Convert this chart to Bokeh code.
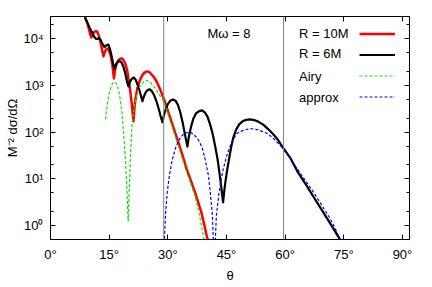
import numpy as np
from bokeh.plotting import figure
from bokeh.models import (Span, Label, Legend, LegendItem, FixedTicker,
                          CustomJSTickFormatter, LinearAxis, LogAxis)
from bokeh.embed import file_html
from bokeh.resources import INLINE

# ---- data (theta in degrees, log10 of M^-2 dsigma/dOmega) ----
theta_r10 = [8.18, 8.94, 9.45, 9.85, 10.2, 10.48, 10.75, 11.1, 11.5, 11.9, 12.3, 12.78, 13.2,
             13.54, 13.8, 14.15, 14.5, 14.85, 15.33, 15.8, 16.23, 16.5, 16.87, 17.3, 17.8,
             18.27, 18.7, 19.2, 19.68, 20.1, 20.44, 20.8, 21.21, 21.5, 21.8, 22.2, 22.8,
             23.5, 24.1, 24.71, 25.3, 25.81, 26.5, 27.09, 27.6, 28.11, 28.95, 29.8, 30.66,
             31.7, 32.79, 33.8, 34.75, 35.9, 37.05, 38.58, 39.3, 40.04, 40.63]
logsig_r10 = [4.64, 4.437, 4.33, 4.20, 4.08, 4.030, 4.09, 4.14, 4.16, 4.155, 4.08, 3.923, 3.76,
              3.623, 3.70, 3.76, 3.79, 3.77, 3.66, 3.45, 3.151, 3.33, 3.45, 3.53, 3.57,
              3.58, 3.54, 3.45, 3.29, 3.05, 2.85, 2.60, 2.229, 2.55, 2.75, 2.93, 3.10,
              3.22, 3.28, 3.301, 3.285, 3.24, 3.17, 3.09, 3.00, 2.90, 2.72, 2.51, 2.294,
              2.03, 1.758, 1.49, 1.222, 0.96, 0.686, 0.279, 0.02, -0.257, -0.407]

theta_r6 = [8.18, 8.94, 9.97, 10.73, 11.2, 11.6, 12.0, 12.4, 12.8, 13.3, 13.8, 14.3, 14.8,
            15.2, 15.6, 16.0, 16.35, 16.7, 17.1, 17.6, 18.1, 18.6, 19.1, 19.5, 19.93, 20.3,
            20.8, 21.3, 21.8, 22.3, 22.9, 23.51, 23.9, 24.4, 24.9, 25.4, 25.9, 26.5, 27.1,
            27.7, 28.2, 28.62, 29.0, 29.5, 30.0, 30.6, 31.3, 32.0, 32.6, 33.2, 33.8, 34.4,
            35.01, 35.4, 35.9, 36.5, 37.2, 38.0, 38.8, 39.5, 40.2, 40.89, 41.5, 42.1, 42.7,
            43.2, 43.7, 44.13, 44.45, 44.8, 45.2, 45.7, 46.2, 46.8, 47.5, 48.3, 49.2, 50.1,
            51.1, 52.1, 53.2, 54.4, 55.6, 56.9, 58.2, 59.5, 61.3, 63.04, 65.2, 67.28, 69.4,
            71.55, 73.0, 74.5]
logsig_r6 = [4.65, 4.437, 4.244, 4.116, 4.04, 4.00, 3.995, 4.02, 3.98, 3.89, 3.82, 3.86, 3.875,
             3.78, 3.64, 3.47, 3.35, 3.44, 3.50, 3.525, 3.50, 3.41, 3.27, 3.10, 2.98, 3.08,
             3.14, 3.17, 3.12, 3.01, 2.85, 2.66, 2.77, 2.86, 2.905, 2.915, 2.88, 2.79, 2.66,
             2.49, 2.33, 2.21, 2.36, 2.50, 2.60, 2.67, 2.70, 2.67, 2.58, 2.42, 2.20, 1.94,
             1.69, 1.91, 2.10, 2.28, 2.40, 2.45, 2.465, 2.42, 2.32, 2.144, 1.95, 1.70, 1.43,
             1.13, 0.80, 0.493, 0.75, 0.98, 1.20, 1.44, 1.68, 1.90, 2.06, 2.17, 2.235, 2.265,
             2.272, 2.258, 2.22, 2.16, 2.07, 1.96, 1.83, 1.66, 1.45, 1.17, 0.89, 0.61, 0.33,
             0.04, -0.16, -0.36]

theta_airy = [14.05, 14.3, 14.57, 15.08, 15.59, 15.95, 16.35, 16.75, 17.12, 17.63, 18.14,
              18.65, 19.17, 19.55, 19.86, 20.14, 20.44, 20.88, 21.47, 22.23, 23.00, 23.77,
              24.66, 25.55, 26.83, 28.11, 28.95, 29.8, 30.66, 31.7, 32.71, 33.7, 34.75, 35.9,
              37.05, 38.1, 39.18, 39.6]
logsig_airy = [2.272, 2.47, 2.615, 2.851, 3.001, 3.055, 3.072, 3.05, 3.001, 2.808, 2.508,
               2.036, 1.393, 0.750, 0.086, 0.750, 1.501, 2.187, 2.572, 2.851, 3.001, 3.076,
               3.108, 3.065, 2.937, 2.765, 2.658, 2.45, 2.229, 1.96, 1.693, 1.43, 1.158, 0.88,
               0.60, 0.22, -0.257, -0.40]

theta_approx = [29.0, 29.13, 29.39, 29.82, 30.41, 31.10, 31.94, 32.79, 33.4, 33.99, 34.7,
                35.34, 35.95, 36.54, 37.2, 37.90, 38.84, 39.61, 40.38, 40.89, 41.40, 41.65,
                41.85, 42.16, 42.42, 43.01, 43.6, 44.21, 45.1, 46.0, 46.8, 47.71, 48.5, 49.32,
                50.2, 51.11, 52.1, 53.16, 54.3, 55.45, 56.5, 57.5, 58.6, 59.6, 61.33, 63.04,
                65.2, 67.28, 69.4, 71.55, 72.7, 73.9, 74.4]
logsig_approx = [-2.0, -0.322, 0.214, 0.686, 1.072, 1.393, 1.651, 1.822, 1.90, 1.951, 1.985,
                 2.000, 1.99, 1.951, 1.90, 1.822, 1.651, 1.393, 1.072, 0.686, 0.214, -0.322,
                 -2.0, -0.279, 0.214, 0.643, 0.96, 1.222, 1.50, 1.715, 1.86, 1.972, 2.01, 2.036,
                 2.06, 2.073, 2.065, 2.047, 2.01, 1.972, 1.90, 1.822, 1.73, 1.63, 1.44, 1.22,
                 0.96, 0.71, 0.43, 0.14, -0.04, -0.29, -0.40]

series_labels = ["R = 10M", "R = 6M", "Airy", "approx"]
marker_lines = [28.95, 59.6]
x_ticks = [0, 15, 30, 45, 60, 75, 90]
y_ticks = [1, 10, 100, 1000, 10000]
y_minor = [0.5, 2, 5, 20, 50, 200, 500, 2000, 5000, 20000]
annotation = "M\u03c9 = 8"
x_title = "\u03b8"
y_title = "M\u207b\u00b2 d\u03c3/d\u03a9"

FONT = "Liberation Sans"

p = figure(width=432, height=287, x_range=(0, 91.8), y_range=(0.5, 3.0e4),
           y_axis_type="log", output_backend="svg", toolbar_location=None,
           min_border_left=50, min_border_right=23, min_border_top=16, min_border_bottom=48,
           background_fill_color="white", border_fill_color="white")
p.xgrid.visible = False
p.ygrid.visible = False
p.outline_line_color = "black"
p.outline_line_width = 1

for sp in marker_lines:
    p.add_layout(Span(location=sp, dimension="height", line_color="#808080", line_width=1))

r_red = p.line(theta_r10, 10 ** np.array(logsig_r10), line_color="#ff0000", line_width=2.5,
               line_join="round")
r_blk = p.line(theta_r6, 10 ** np.array(logsig_r6), line_color="#000000", line_width=2.2,
               line_join="round")
r_grn = p.line(theta_airy, 10 ** np.array(logsig_airy), line_color="#00ee00", line_width=1.2,
               line_dash="3 2")
r_blu = p.line(theta_approx, 10 ** np.array(logsig_approx), line_color="#0000ff", line_width=1.2,
               line_dash="3 2")

xfmt = CustomJSTickFormatter(code='return tick + "\u00b0";')
yfmt = CustomJSTickFormatter(code="""
const sup = {"0":"\u2070","1":"\u00b9","2":"\u00b2","3":"\u00b3","4":"\u2074","5":"\u2075",
             "6":"\u2076","7":"\u2077","8":"\u2078","9":"\u2079","-":"\u207b"};
const e = Math.round(Math.log10(tick));
return "10" + String(e).split("").map(c => sup[c]).join("");
""")
blank = CustomJSTickFormatter(code='return "";')

def style(ax, labels=True):
    ax.axis_line_color = "black"
    ax.major_tick_in = 5
    ax.major_tick_out = 0
    ax.minor_tick_in = 3
    ax.minor_tick_out = 0
    ax.major_tick_line_color = "black"
    ax.minor_tick_line_color = "black"
    if labels:
        ax.major_label_text_font = FONT
        ax.major_label_text_font_size = "13px"
        ax.major_label_text_color = "black"
        ax.axis_label_text_font = FONT
        ax.axis_label_text_font_size = "13px"
        ax.axis_label_text_font_style = "normal"
        ax.axis_label_text_color = "black"
    else:
        ax.major_label_text_font_size = "0px"
        ax.major_label_standoff = 0

xa = p.xaxis[0]
xa.ticker = FixedTicker(ticks=x_ticks)
xa.formatter = xfmt
xa.axis_label = x_title
style(xa)
xa.major_label_standoff = 7
xa.axis_label_standoff = 3

ya = p.yaxis[0]
ya.ticker = FixedTicker(ticks=y_ticks, minor_ticks=y_minor)
ya.formatter = yfmt
ya.axis_label = y_title
style(ya)
ya.major_label_standoff = 7
ya.axis_label_standoff = 0

top = LinearAxis(ticker=FixedTicker(ticks=x_ticks), formatter=blank)
style(top, labels=False)
p.add_layout(top, "above")
right = LogAxis(ticker=FixedTicker(ticks=y_ticks, minor_ticks=y_minor), formatter=blank)
style(right, labels=False)
p.add_layout(right, "right")

legend = Legend(items=[LegendItem(label=" ", renderers=[r]) for r in (r_red, r_blk, r_grn, r_blu)],
                location=(308.7, 132.2), glyph_width=36, glyph_height=21, label_width=0,
                label_height=21, label_standoff=0, padding=0, margin=0, spacing=0,
                border_line_alpha=0, background_fill_alpha=0, label_text_font_size="1px")
p.add_layout(legend)

# legend texts (left of the samples)
legend_text_x = 63.55
legend_text_y = [12860, 4797, 1563, 562]
for txt, yy in zip(series_labels, legend_text_y):
    p.add_layout(Label(x=legend_text_x, y=yy, text=txt, text_baseline="middle",
                       text_align="left", text_font=FONT, text_font_size="13px",
                       text_color="black"))

p.add_layout(Label(x=40.12, y=12860, text=annotation, text_baseline="middle", text_align="left",
                   text_font=FONT, text_font_size="13px", text_color="black"))

open("out.html", "w").write(file_html(p, INLINE))
